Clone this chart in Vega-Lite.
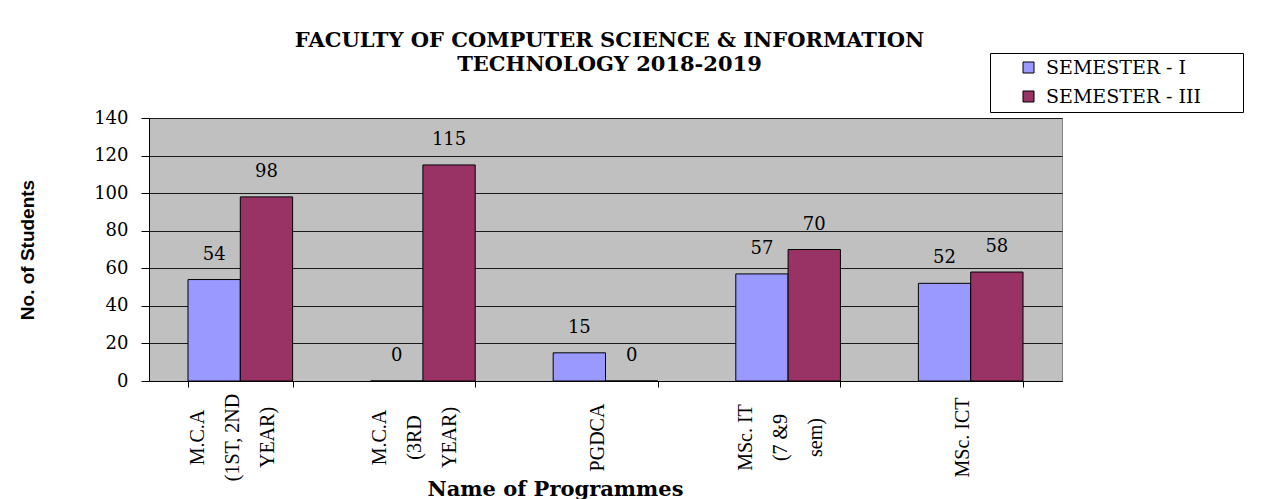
{
  "$schema": "https://vega.github.io/schema/vega-lite/v6.json",
  "autosize": "none",
  "width": 913,
  "height": 263,
  "padding": {"left": 149, "top": 118, "right": 201, "bottom": 118},
  "background": "white",
  "title": {
    "text": ["FACULTY OF COMPUTER SCIENCE & INFORMATION", "TECHNOLOGY 2018-2019"],
    "font": "DejaVu Serif",
    "fontSize": 21,
    "fontWeight": "bold",
    "color": "black",
    "anchor": "middle",
    "frame": "group",
    "offset": -22,
    "lineHeight": 24,
    "dx": 4
  },
  "config": {
    "view": {"fill": "#C0C0C0", "stroke": "#808080", "strokeWidth": 1}
  },
  "data": {
    "values": [
      {"program": "M.C.A\n(1ST, 2ND\nYEAR)", "semester": "SEMESTER - I", "students": 54},
      {"program": "M.C.A\n(1ST, 2ND\nYEAR)", "semester": "SEMESTER - III", "students": 98},
      {"program": "M.C.A\n(3RD\nYEAR)", "semester": "SEMESTER - I", "students": 0},
      {"program": "M.C.A\n(3RD\nYEAR)", "semester": "SEMESTER - III", "students": 115},
      {"program": "PGDCA", "semester": "SEMESTER - I", "students": 15},
      {"program": "PGDCA", "semester": "SEMESTER - III", "students": 0},
      {"program": "MSc. IT\n(7 &9\nsem)", "semester": "SEMESTER - I", "students": 57},
      {"program": "MSc. IT\n(7 &9\nsem)", "semester": "SEMESTER - III", "students": 70},
      {"program": "MSc. ICT", "semester": "SEMESTER - I", "students": 52},
      {"program": "MSc. ICT", "semester": "SEMESTER - III", "students": 58}
    ]
  },
  "encoding": {
    "x": {
      "field": "program",
      "type": "nominal",
      "sort": null,
      "scale": {"paddingInner": 0.427, "paddingOuter": 0.2135},
      "axis": {
        "title": "Name of Programmes",
        "titleFont": "DejaVu Serif",
        "titleFontSize": 21,
        "titleFontWeight": "bold",
        "titleColor": "black",
        "titleX": 406,
        "titleY": 114,
        "titleBaseline": "alphabetic",
        "titleAnchor": "middle",
        "labelExpr": "length(split(datum.label, '\\n')) == 1 ? ['', datum.label] : split(datum.label, '\\n')",
        "labelAngle": 270,
        "labelAlign": "center",
        "labelBaseline": "middle",
        "labelLineHeight": 35,
        "labelFont": "Liberation Serif",
        "labelFontSize": 20,
        "labelColor": "black",
        "labelPadding": 50,
        "labelOffset": -43,
        "tickBand": "extent",
        "tickSize": 6,
        "tickColor": "black",
        "domainColor": "black",
        "grid": false
      }
    },
    "xOffset": {
      "field": "semester",
      "type": "nominal",
      "scale": {"paddingInner": 0, "paddingOuter": 0}
    },
    "y": {
      "field": "students",
      "type": "quantitative",
      "scale": {"domain": [0, 140], "nice": false},
      "axis": {
        "values": [0, 20, 40, 60, 80, 100, 120, 140],
        "title": "No. of Students",
        "titleFont": "Liberation Sans",
        "titleFontSize": 19,
        "titleFontWeight": "bold",
        "titleColor": "black",
        "titleAngle": 270,
        "titleX": -122,
        "titleY": 131.5,
        "titleAlign": "center",
        "titleBaseline": "middle",
        "labelFont": "DejaVu Serif",
        "labelFontSize": 18,
        "labelColor": "black",
        "labelPadding": 13,
        "tickSize": 8,
        "tickColor": "black",
        "domainColor": "black",
        "grid": true,
        "gridColor": "#1a1a1a",
        "gridWidth": 1
      }
    }
  },
  "layer": [
    {
      "mark": {"type": "bar", "stroke": "black", "strokeWidth": 1},
      "encoding": {
        "color": {
          "field": "semester",
          "type": "nominal",
          "scale": {"domain": ["SEMESTER - I", "SEMESTER - III"], "range": ["#9999FF", "#993366"]},
          "legend": {
            "title": null,
            "orient": "none",
            "legendX": 841,
            "legendY": -65,
            "fillColor": "white",
            "strokeColor": "black",
            "padding": 5,
            "symbolOffset": 24,
            "symbolType": "square",
            "symbolSize": 121,
            "symbolStrokeColor": "black",
            "symbolStrokeWidth": 1,
            "labelFont": "DejaVu Serif",
            "labelFontSize": 19,
            "labelColor": "black",
            "labelOffset": 8,
            "labelLimit": 400,
            "rowPadding": 9,
            "labelExpr": "datum.label + '\u00a0\u00a0\u00a0\u00a0\u00a0\u00a0\u200b'"
          }
        }
      }
    },
    {
      "mark": {"type": "text", "baseline": "alphabetic", "dy": -20, "font": "DejaVu Serif", "fontSize": 18, "color": "black"},
      "encoding": {
        "text": {"field": "students", "type": "quantitative"}
      }
    }
  ]
}
